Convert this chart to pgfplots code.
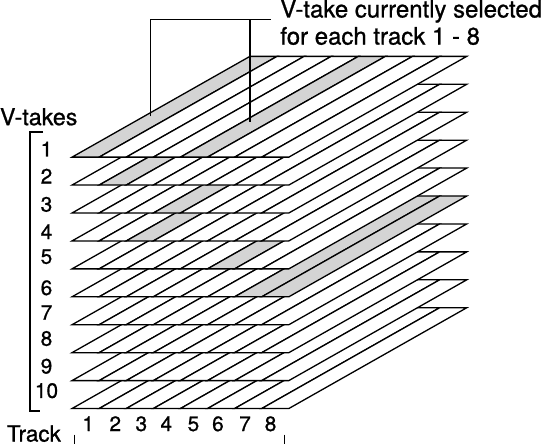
\documentclass[border=0pt]{standalone}
\usepackage{pgfplots}
\pgfplotsset{compat=1.18}
\usepackage{fontspec}
\setmainfont{TeX Gyre Heros}[FakeBold=0.9]
\definecolor{selgray}{RGB}{212,212,212}
% V-take selected for tracks 1..8
\def\selected{{1,2,4,3,1,5,6,6}}
\begin{document}
\begin{tikzpicture}
\begin{axis}[
  scale only axis, width=542bp, height=441bp,
  xmin=0, xmax=542, ymin=0, ymax=441, y dir=reverse,
  axis lines=none, clip=false,
]
% layers, drawn from bottom (10) to top (1)
\foreach \k in {10,9,...,1}{
  \pgfmathsetmacro\yf{165.7+26.8*(\k-1)}
  \pgfmathsetmacro\yb{\yf-96.7}
  \foreach \t in {1,...,8}{
    \pgfmathsetmacro\xa{81+26*(\t-1)}
    \pgfmathsetmacro\xb{\xa+26}
    \pgfmathsetmacro\xc{\xb+170.7}
    \pgfmathsetmacro\xd{\xa+170.7}
    \pgfmathtruncatemacro\s{\selected[\t-1]}
    \ifnum\s=\k\relax \def\col{selgray}\else\def\col{white}\fi
    \edef\tmp{\noexpand\addplot[draw=black,line width=1.25bp,line join=miter,fill=\col] coordinates {(\xa,\yf) (\xb,\yf) (\xc,\yb) (\xd,\yb)} --cycle;}
    \tmp
  }
}
% callout lines
\addplot[black,line width=1.2bp] coordinates {(156,126.7) (156,33.3) (271.7,33.3)};
\addplot[black,line width=1.2bp] coordinates {(251.7,33.3) (251.7,131.7)};
% bracket
\addplot[black,line width=1.9bp,line join=miter] coordinates {(53.3,141.7) (40.7,141.7) (40.7,409.3) (50,409.3)};
% track ticks
\addplot[black,line width=1.6bp] coordinates {(83.3,432) (83.3,441)};
\addplot[black,line width=1.6bp] coordinates {(285,432) (285,441)};
% texts
\node[anchor=base west,inner sep=0,font=\fontsize{23bp}{26bp}\selectfont] at (axis cs:280.7,31.7) {V-take currently selected};
\node[anchor=base west,inner sep=0,font=\fontsize{23bp}{26bp}\selectfont] at (axis cs:280.7,57.7) {for each track 1 - 8};
\node[anchor=base west,inner sep=0,font=\fontsize{22.3bp}{26bp}\selectfont] at (axis cs:11.7,135) {V-takes};
\node[anchor=base west,inner sep=0,font=\fontsize{21.5bp}{26bp}\selectfont] at (axis cs:18.3,438.6) {Track};
\foreach \n/\yy in {1/165,2/191,3/218,4/244.3,5/268,6/298,7/321.7,8/346.7,9/373.3,10/396.7}{
  \edef\tmp{\noexpand\node[anchor=base,inner sep=0,font=\noexpand\fontsize{20bp}{22bp}\noexpand\selectfont] at (axis cs:56.5,\yy) {\n};}
  \tmp
}
\foreach \n/\xx in {1/96.5,2/122.5,3/147.5,4/171.5,5/197.5,6/221,7/247,8/271.5}{
  \edef\tmp{\noexpand\node[anchor=base,inner sep=0,font=\noexpand\fontsize{20bp}{22bp}\noexpand\selectfont] at (axis cs:\xx,428.5) {\n};}
  \tmp
}
\end{axis}
\end{tikzpicture}
\end{document}
